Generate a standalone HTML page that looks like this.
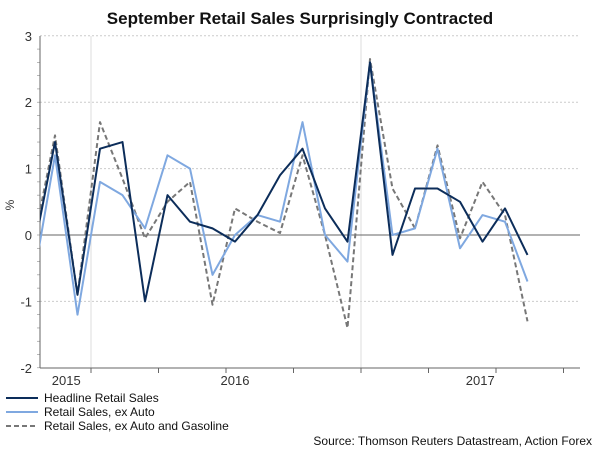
<!DOCTYPE html>
<html><head><meta charset="utf-8"><style>
body{margin:0;background:#fff;width:600px;height:451px;overflow:hidden;font-family:"Liberation Sans",Arial,sans-serif}
</style></head><body>
<svg width="600" height="451" xmlns="http://www.w3.org/2000/svg" font-family="Liberation Sans, Arial, sans-serif">
<text x="300" y="24" text-anchor="middle" font-size="17" font-weight="bold" fill="#111">September Retail Sales Surprisingly Contracted</text>
<defs><clipPath id="pc"><rect x="40" y="30" width="540" height="340"/></clipPath></defs>
<g id="grid"></g>
<g id="axes"></g>
<g id="series" clip-path="url(#pc)"></g>
<text x="14" y="205" font-size="12" fill="#333" transform="rotate(-90 14 205)" text-anchor="middle">%</text>
<g font-size="12" fill="#111">
<line x1="6" y1="398" x2="38" y2="398" stroke="#0c2d5a" stroke-width="2"/>
<text x="44" y="402">Headline Retail Sales</text>
<line x1="6" y1="412" x2="38" y2="412" stroke="#7fa8e0" stroke-width="2"/>
<text x="44" y="416">Retail Sales, ex Auto</text>
<line x1="6" y1="426" x2="38" y2="426" stroke="#777" stroke-width="2" stroke-dasharray="5,3"/>
<text x="44" y="430">Retail Sales, ex Auto and Gasoline</text>
</g>
<text x="592" y="445" text-anchor="end" font-size="12" fill="#111">Source: Thomson Reuters Datastream, Action Forex</text>
<script>
const headline=[-0.33,1.4,-0.9,1.3,1.4,-1.0,0.6,0.2,0.1,-0.1,0.3,0.9,1.3,0.4,-0.1,2.6,-0.3,0.7,0.7,0.5,-0.1,0.4,-0.3];
const exAuto=[-0.75,1.2,-1.2,0.8,0.6,0.1,1.2,1.0,-0.6,0.0,0.3,0.2,1.7,0.0,-0.4,2.6,0.0,0.1,1.3,-0.2,0.3,0.2,-0.7];
const exAutoGas=[-0.2,1.5,-0.9,1.7,0.85,-0.05,0.5,0.8,-1.05,0.4,0.2,0.03,1.2,0.0,-1.4,2.65,0.7,0.1,1.35,-0.05,0.8,0.3,-1.3];
const yTicks=[3,2,1,0,-1,-2];
const yearLabels=["2015","2016","2017"];
const yearIdx=[1.5,9,19.9];
const NS="http://www.w3.org/2000/svg";
function X(i){return 32.5+i*22.5;}
function Y(v){return 235-v*66.4;}
function mk(t,a,p){const e=document.createElementNS(NS,t);for(const k in a)e.setAttribute(k,a[k]);p.appendChild(e);return e;}
const grid=document.getElementById('grid'),axes=document.getElementById('axes'),ser=document.getElementById('series');
yTicks.forEach(v=>{
 if(v!==0&&v!==-2){const l=mk('line',{x1:40,x2:580,y1:Y(v),y2:Y(v),stroke:'#ccc','stroke-dasharray':'2,2'},grid);
 
 }
 const t=mk('text',{x:32,y:Y(v)+5,'text-anchor':'end','font-size':13,fill:'#333'},axes);t.textContent=v;
 
 
});
for(let v=-2;v<=3;v+=0.2){mk('line',{x1:37,x2:40,y1:Y(v),y2:Y(v),stroke:'#888','stroke-width':0.6},axes);}
[91,361].forEach(x=>{const l=mk('line',{x1:x,x2:x,y1:36,y2:368,stroke:'#ddd'},grid);
 
 });
mk('line',{x1:40,x2:40,y1:36,y2:368,stroke:'#666'},axes);
mk('line',{x1:40,x2:580,y1:368,y2:368,stroke:'#666'},axes);
const z=mk('line',{x1:40,x2:580,y1:Y(0),y2:Y(0),stroke:'#666'},axes);


for(let x=91;x<590;x+=67.5){mk('line',{x1:x,x2:x,y1:368,y2:373,stroke:'#666'},axes);}
yearLabels.forEach((s,i)=>{const t=mk('text',{x:X(yearIdx[i]),y:385,'text-anchor':'middle','font-size':13,fill:'#333'},axes);t.textContent=s;
 
 });
function line(d,col,w,dash,name){const p=mk('polyline',{points:d.map((v,i)=>X(i)+','+Y(v)).join(' '),fill:'none',stroke:col,'stroke-width':w,'stroke-linejoin':'round'},ser);
 if(dash)p.setAttribute('stroke-dasharray',dash);
 
 }
line(exAutoGas,'#777',2,'5,3','series-ex-auto-gasoline');
line(exAuto,'#7fa8e0',2,null,'series-ex-auto');
line(headline,'#0c2d5a',2,null,'series-headline');
</script>
</svg>
</body></html>
